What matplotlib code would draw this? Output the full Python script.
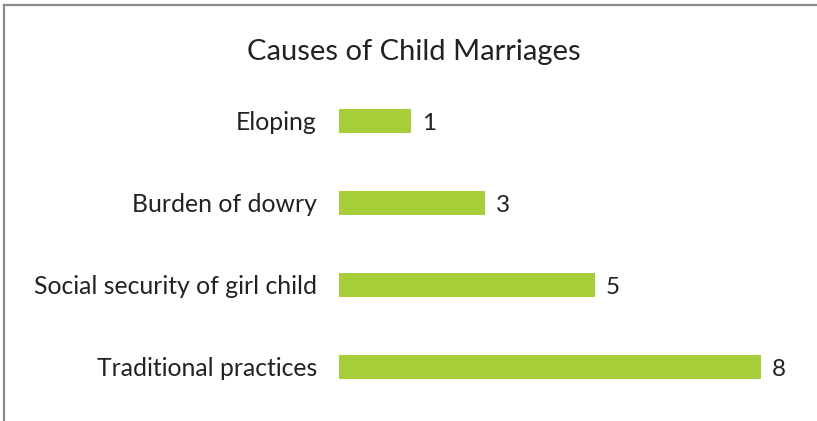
import matplotlib
matplotlib.use("Agg")
import matplotlib.pyplot as plt
from matplotlib.lines import Line2D

categories = ["Eloping", "Burden of dowry", "Social security of girl child", "Traditional practices"]
values = [1.37, 2.77, 4.85, 8.0]
value_labels = ["1", "3", "5", "8"]
title = "Causes of Child Marriages"

plt.rcParams['font.family'] = ['Lato', 'DejaVu Sans']
W, H = 817, 421
fig = plt.figure(figsize=(W / 100, H / 100), dpi=100)
fig.patch.set_facecolor("white")

ax = fig.add_axes([339 / W, 1 - 408 / H, (761 - 339) / W, (408 - 80) / H])
y = list(range(len(categories)))
ax.barh(y, values, height=0.29, color="#A6CE39")
ax.set_xlim(0, 8)
ax.set_ylim(len(categories) - 0.5, -0.5)
ax.set_yticks(y)
ax.set_yticklabels(categories, fontsize=17.8, color="#222222")
ax.tick_params(axis="y", length=0, pad=16)
ax.set_xticks([])
for s in ax.spines.values():
    s.set_visible(False)
for yi, v, lab in zip(y, values, value_labels):
    ax.annotate(lab, (v, yi), xytext=(11, 0), textcoords="offset pixels",
                va="center_baseline", ha="left", fontsize=17.5, color="#222222",
                annotation_clip=False)

fig.text(414 / W, 1 - 52 / H, title, ha="center", va="center", fontsize=21, color="#222222")

# frame lines (top and left)
fig.add_artist(Line2D([4 / W, 1], [1 - 4.5 / H, 1 - 4.5 / H], transform=fig.transFigure,
                      color="#8c8c8c", lw=1.6))
fig.add_artist(Line2D([4 / W, 4 / W], [0, 1 - 4.5 / H], transform=fig.transFigure,
                      color="#8c8c8c", lw=1.6))

fig.savefig("out.png", dpi=100, facecolor="white")
